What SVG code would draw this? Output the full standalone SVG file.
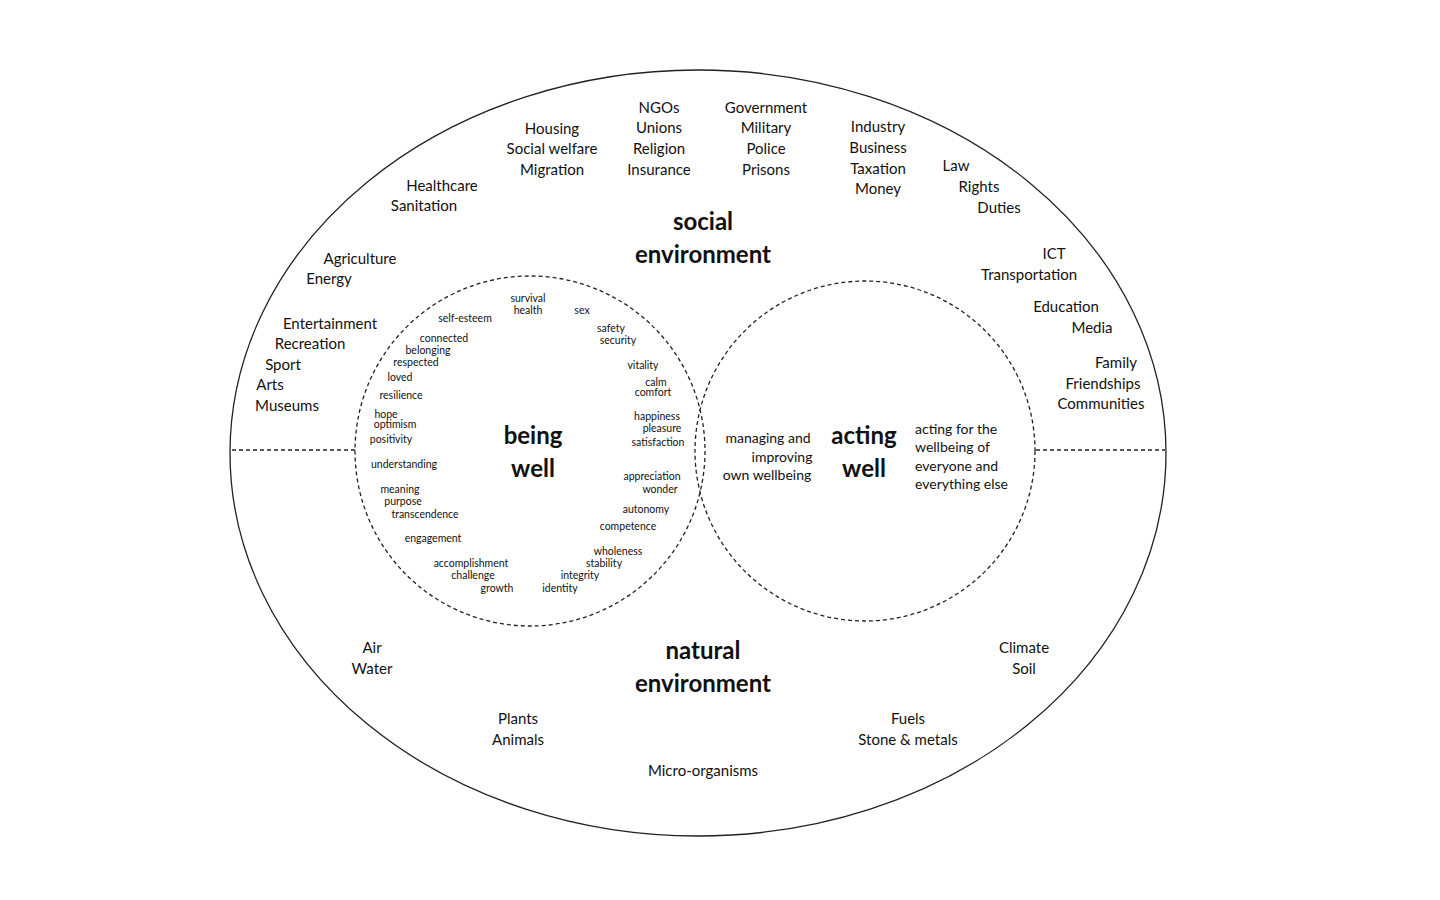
<svg xmlns="http://www.w3.org/2000/svg" width="1440" height="900" viewBox="0 0 1440 900">
<style>
text{font-family:Lato,"Open Sans",sans-serif;fill:#111;text-anchor:middle}
.o{font-size:15px}
.s{font-size:10.5px}
.t{font-size:24px;font-weight:bold}
.m{font-size:14px}
.d{fill:none;stroke:#222;stroke-width:1.3;stroke-dasharray:4,3}
</style>
<rect width="1440" height="900" fill="#fff"/>
<g id="connectors">
<line class="d" x1="232" y1="450" x2="357" y2="450"/>
<line class="d" x1="1036" y1="450" x2="1165" y2="450"/>
</g>
<g id="environment">
<ellipse cx="698" cy="453" rx="468" ry="383" fill="none" stroke="#222" stroke-width="1.3"/>
<text class="t" x="703" y="230">social</text>
<text class="t" x="703" y="263">environment</text>
<text class="t" x="703" y="659">natural</text>
<text class="t" x="703" y="692">environment</text>
<text class="o" x="552" y="134">Housing</text><text class="o" x="552" y="154">Social welfare</text><text class="o" x="552" y="175">Migration</text>
<text class="o" x="659" y="113">NGOs</text><text class="o" x="659" y="133">Unions</text><text class="o" x="659" y="154">Religion</text><text class="o" x="659" y="175">Insurance</text>
<text class="o" x="766" y="113">Government</text><text class="o" x="766" y="133">Military</text><text class="o" x="766" y="154">Police</text><text class="o" x="766" y="175">Prisons</text>
<text class="o" x="878" y="132">Industry</text><text class="o" x="878" y="153">Business</text><text class="o" x="878" y="174">Taxation</text><text class="o" x="878" y="194">Money</text>
<text class="o" x="956" y="171">Law</text><text class="o" x="979" y="192">Rights</text><text class="o" x="999" y="213">Duties</text>
<text class="o" x="1054" y="259">ICT</text><text class="o" x="1029" y="280">Transportation</text>
<text class="o" x="1066" y="312">Education</text><text class="o" x="1092" y="333">Media</text>
<text class="o" x="1116" y="368">Family</text><text class="o" x="1103" y="389">Friendships</text><text class="o" x="1101" y="409">Communities</text>
<text class="o" x="442" y="191">Healthcare</text><text class="o" x="424" y="211">Sanitation</text>
<text class="o" x="360" y="264">Agriculture</text><text class="o" x="329" y="284">Energy</text>
<text class="o" x="330" y="329">Entertainment</text><text class="o" x="310" y="349">Recreation</text><text class="o" x="283" y="370">Sport</text><text class="o" x="270" y="390">Arts</text><text class="o" x="287" y="411">Museums</text>
<text class="o" x="372" y="653">Air</text><text class="o" x="372" y="674">Water</text>
<text class="o" x="518" y="724">Plants</text><text class="o" x="518" y="745">Animals</text>
<text class="o" x="703" y="776">Micro-organisms</text>
<text class="o" x="908" y="724">Fuels</text><text class="o" x="908" y="745">Stone &amp; metals</text>
<text class="o" x="1024" y="653">Climate</text><text class="o" x="1024" y="674">Soil</text>
</g>
<g id="being-well">
<circle class="d" cx="530" cy="451" r="175"/>
<text class="t" x="533" y="444">being</text><text class="t" x="533" y="477">well</text>
<text class="s" x="528" y="302">survival</text><text class="s" x="528" y="314">health</text>
<text class="s" x="582" y="314">sex</text>
<text class="s" x="611" y="332">safety</text><text class="s" x="618" y="344">security</text>
<text class="s" x="643" y="369">vitality</text>
<text class="s" x="656" y="386">calm</text><text class="s" x="653" y="396">comfort</text>
<text class="s" x="657" y="420">happiness</text><text class="s" x="662" y="432">pleasure</text><text class="s" x="658" y="446">satisfaction</text>
<text class="s" x="652" y="480">appreciation</text><text class="s" x="660" y="493">wonder</text>
<text class="s" x="646" y="513">autonomy</text>
<text class="s" x="628" y="530">competence</text>
<text class="s" x="618" y="555">wholeness</text><text class="s" x="604" y="567">stability</text><text class="s" x="580" y="579">integrity</text><text class="s" x="560" y="592">identity</text>
<text class="s" x="465" y="322">self-esteem</text>
<text class="s" x="444" y="342">connected</text><text class="s" x="428" y="354">belonging</text><text class="s" x="416" y="366">respected</text>
<text class="s" x="400" y="381">loved</text>
<text class="s" x="401" y="399">resilience</text>
<text class="s" x="386" y="418">hope</text><text class="s" x="395" y="428">optimism</text><text class="s" x="391" y="443">positivity</text>
<text class="s" x="404" y="468">understanding</text>
<text class="s" x="400" y="493">meaning</text><text class="s" x="403" y="505">purpose</text><text class="s" x="425" y="518">transcendence</text>
<text class="s" x="433" y="542">engagement</text>
<text class="s" x="471" y="567">accomplishment</text><text class="s" x="473" y="579">challenge</text><text class="s" x="497" y="592">growth</text>
</g>
<g id="acting-well">
<circle class="d" cx="865" cy="451" r="170"/>
<text class="t" x="864" y="444">acting</text><text class="t" x="864" y="477">well</text>
<text class="m" x="768" y="443">managing and</text><text class="m" x="782" y="462">improving</text><text class="m" x="767" y="480">own wellbeing</text>
<text class="m" x="915" y="434" style="text-anchor:start">acting for the</text><text class="m" x="915" y="452" style="text-anchor:start">wellbeing of</text><text class="m" x="915" y="471" style="text-anchor:start">everyone and</text><text class="m" x="915" y="489" style="text-anchor:start">everything else</text>
</g>
</svg>
